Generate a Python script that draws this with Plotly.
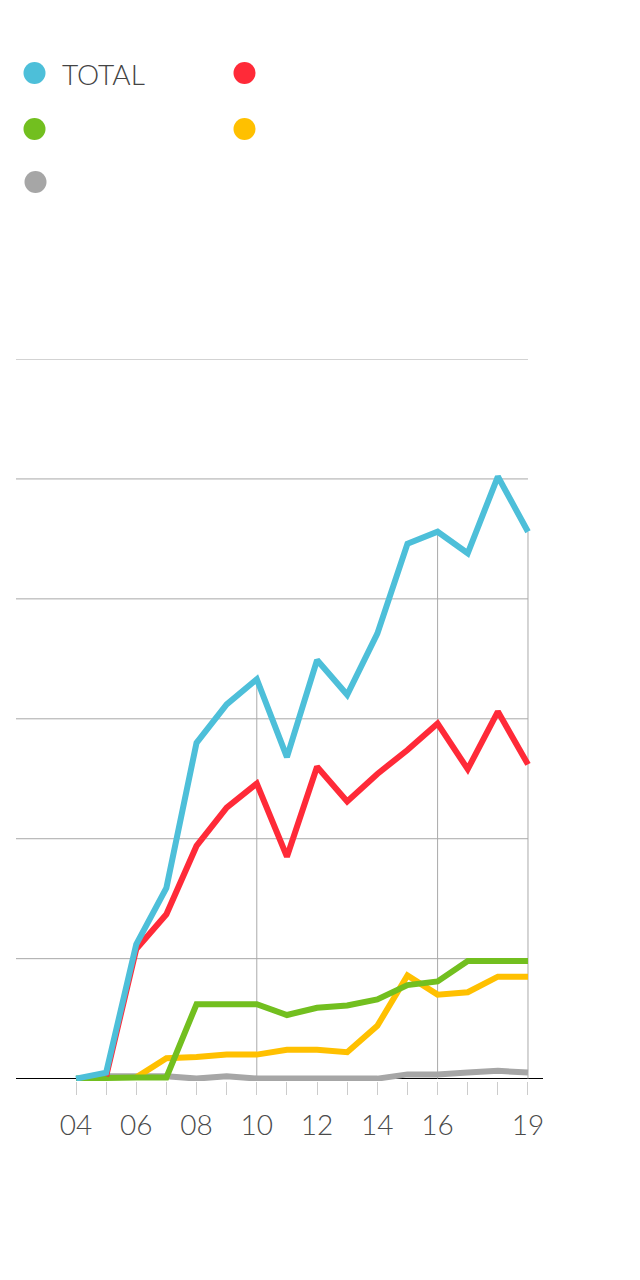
import plotly.graph_objects as go

years = list(range(2004, 2020))
tick_labels = ["04", "", "06", "", "08", "", "10", "", "12", "", "14", "", "16", "", "", "19"]

series_names = ["TOTAL", "", "", "", ""]
series_colors = ["#4DBFD9", "#FF2A38", "#72BF1F", "#FFC000", "#A6A6A6"]

total = [0, 5, 112, 159, 280, 312, 333, 268, 349, 320, 371, 446, 456, 438, 502, 456]
red = [None, 2, 108, 137, 194, 226, 246, 185, 260, 231, 254, 274, 296, 258, 306, 262]
green = [0, 1, 1, 1, 62, 62, 62, 53, 59, 61, 66, 78, 81, 98, 98, 98]
yellow = [None, None, 1, 17, 18, 20, 20, 24, 24, 22, 44, 86, 70, 72, 85, 85]
gray = [None, 2, 2, 2, 0, 2, 0, 0, 0, 0, 0, 3.5, 3.5, 5, 6.5, 5]

grid_values = [100, 200, 300, 400, 500, 600]
highlight_years = [2010, 2016, 2019]

W, H = 640, 1280
OFFX, OFFY = 8, 7  # page body offset
ml, mr, mt, mb = 8, 105, 351, 207
pw, ph = W - ml - mr, H - mt - mb
XR = [2002.009, 2019.498]

fig = go.Figure()

# drop lines from TOTAL at highlighted years
dx, dy = [], []
for yr in highlight_years:
    v = total[years.index(yr)]
    dx += [yr, yr, None]
    dy += [0, v, None]
fig.add_trace(go.Scatter(x=dx, y=dy, mode="lines",
                         line=dict(color="#AAAAAA", width=1),
                         hoverinfo="skip", showlegend=False))

draw_order = [(gray, 4), (yellow, 3), (green, 2), (red, 1), (total, 0)]
for data, i in draw_order:
    fig.add_trace(go.Scatter(x=years, y=data, mode="lines", name=series_names[i],
                             line=dict(color=series_colors[i], width=6),
                             showlegend=False, connectgaps=False))

shapes = []
for g in grid_values:
    shapes.append(dict(type="line", xref="paper", yref="y", x0=0,
                       x1=(years[-1] - XR[0]) / (XR[1] - XR[0]),
                       y0=g, y1=g, line=dict(color="#A8A8A8", width=1), layer="below"))

def px2paper(px, py):
    return (px - OFFX - ml) / pw, (H - mb - (py - OFFY)) / ph

# custom legend: 2 columns
leg_pos = [(34.5, 72), (244.5, 72), (34.5, 128), (244.5, 128), (35.5, 181)]
annotations = []
for i, (cx, cy) in enumerate(leg_pos):
    xp, yp = px2paper(cx, cy)
    shapes.append(dict(type="circle", xref="paper", yref="paper",
                       xsizemode="pixel", ysizemode="pixel",
                       xanchor=xp, yanchor=yp, x0=-11, x1=11, y0=-11, y1=11,
                       fillcolor=series_colors[i], line=dict(width=0)))
    if series_names[i]:
        tx, ty = px2paper(cx + 25, cy + 1)
        annotations.append(dict(xref="paper", yref="paper", x=tx, y=ty, text=series_names[i],
                                showarrow=False, xanchor="left", yanchor="middle",
                                font=dict(family="Lato", size=28, color="#444444", weight=300)))

fig.update_layout(
    width=W, height=H,
    margin=dict(l=ml, r=mr, t=mt, b=mb),
    paper_bgcolor="white", plot_bgcolor="white",
    showlegend=False,
    shapes=shapes, annotations=annotations,
    xaxis=dict(range=XR, tickmode="array", tickvals=years, ticktext=tick_labels,
               ticks="outside", ticklen=13, tickcolor="#CCCCCC", tickwidth=1,
               ticklabelstandoff=6,
               showgrid=False, zeroline=False, showline=False,
               tickfont=dict(family="Lato", size=28, color="#4A4A4A", weight=300)),
    yaxis=dict(range=[-2, 600], showgrid=False, showticklabels=False,
               zeroline=True, zerolinecolor="#000000", zerolinewidth=1, showline=False),
)

fig.write_html("out.html")
